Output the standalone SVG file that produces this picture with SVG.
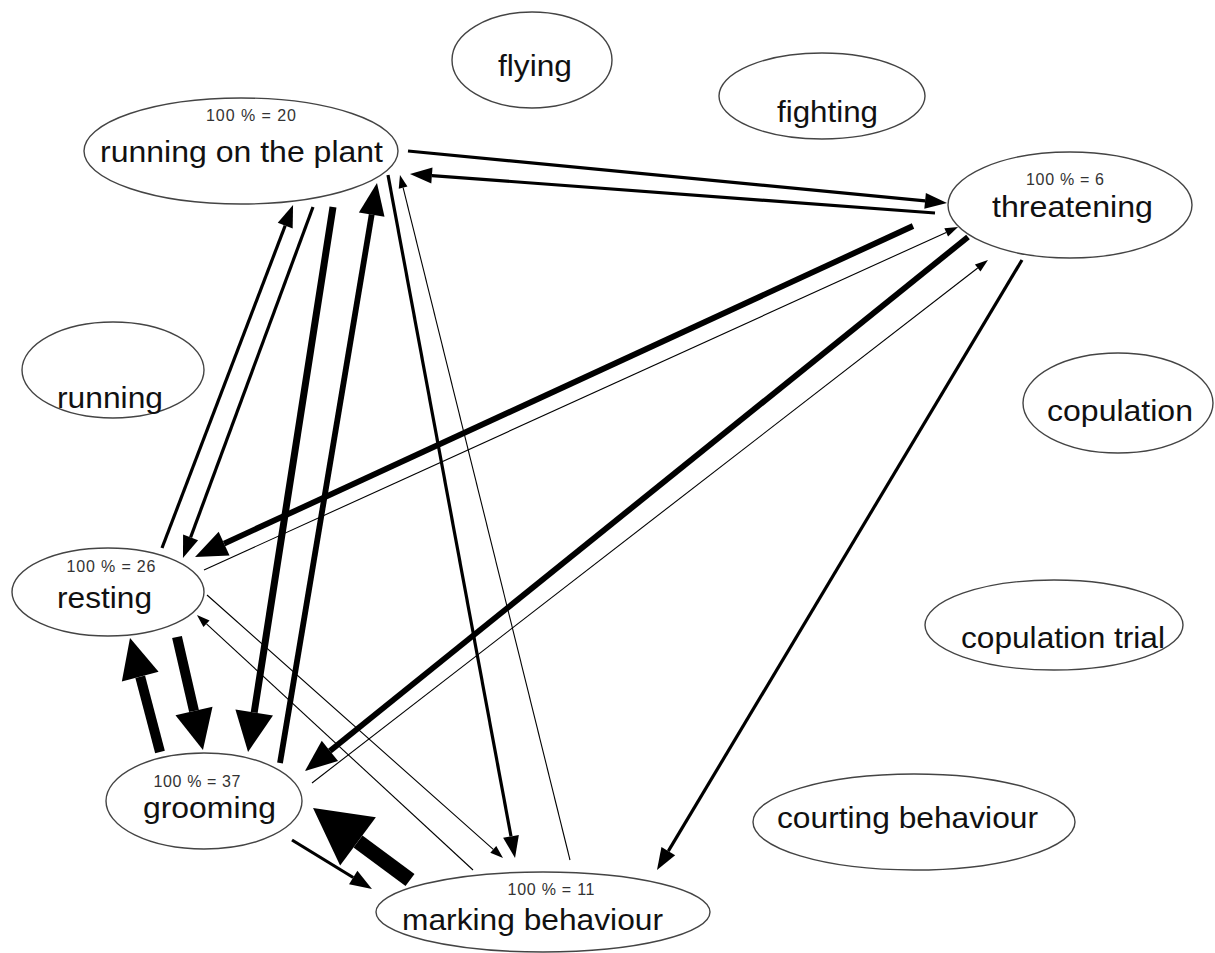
<svg xmlns="http://www.w3.org/2000/svg" width="1215" height="953" viewBox="0 0 1215 953">
  <style>
    .node ellipse { fill: #ffffff; stroke: #444444; stroke-width: 1.4; }
    .lbl { font-family: "Liberation Sans", Arial, sans-serif; font-size: 30px; fill: #111111; text-anchor: middle; }
    .pct { font-family: "Liberation Sans", Arial, sans-serif; font-size: 16px; fill: #333333; text-anchor: middle; }
    .edges line { stroke: #000000; fill: none; stroke-linecap: butt; }
    .w1 { stroke-width: 1.1; }
    .w3 { stroke-width: 3.2; }
    .w6 { stroke-width: 5.8; }
    .w7 { stroke-width: 7; }
    .w10 { stroke-width: 10; }
    .w15 { stroke-width: 15; }
  </style>
  <defs>
    <!-- arrowheads: base sits on the line end, tip points forward -->
    <marker id="hs" markerUnits="userSpaceOnUse" markerWidth="14" markerHeight="10" refX="0" refY="4.5" orient="auto" overflow="visible">
      <path d="M0,0 L13,4.5 L0,9 Z" fill="#000"/>
    </marker>
    <marker id="hm" markerUnits="userSpaceOnUse" markerWidth="23" markerHeight="17" refX="0" refY="8" orient="auto" overflow="visible">
      <path d="M0,0 L22,8 L0,16 Z" fill="#000"/>
    </marker>
    <marker id="hl" markerUnits="userSpaceOnUse" markerWidth="33" markerHeight="27" refX="0" refY="13" orient="auto" overflow="visible">
      <path d="M0,0 L32,13 L0,26 Z" fill="#000"/>
    </marker>
    <marker id="hxl" markerUnits="userSpaceOnUse" markerWidth="41" markerHeight="39" refX="0" refY="19" orient="auto" overflow="visible">
      <path d="M0,0 L40,19 L0,38 Z" fill="#000"/>
    </marker>
    <marker id="hxxl" markerUnits="userSpaceOnUse" markerWidth="57" markerHeight="61" refX="0" refY="30" orient="auto" overflow="visible">
      <path d="M0,0 L56,30 L0,60 Z" fill="#000"/>
    </marker>
  </defs>

  <rect x="0" y="0" width="1215" height="953" fill="#ffffff"/>

  <!-- behaviour states -->
  <g id="node-running-on-plant" class="node">
    <ellipse cx="241" cy="151" rx="157" ry="53"/>
    <text class="pct" x="251" y="121" textLength="90">100 % = 20</text>
    <text class="lbl" x="241.5" y="162" textLength="283" lengthAdjust="spacingAndGlyphs">running on the plant</text>
  </g>
  <g id="node-flying" class="node">
    <ellipse cx="532" cy="60" rx="80" ry="48"/>
    <text class="lbl" x="535" y="76" textLength="74" lengthAdjust="spacingAndGlyphs">flying</text>
  </g>
  <g id="node-fighting" class="node">
    <ellipse cx="822" cy="96" rx="103" ry="43"/>
    <text class="lbl" x="827.5" y="122" textLength="101" lengthAdjust="spacingAndGlyphs">fighting</text>
  </g>
  <g id="node-threatening" class="node">
    <ellipse cx="1070" cy="205" rx="122" ry="53"/>
    <text class="pct" x="1065" y="185" textLength="78">100 % = 6</text>
    <text class="lbl" x="1072.5" y="217" textLength="161" lengthAdjust="spacingAndGlyphs">threatening</text>
  </g>
  <g id="node-running" class="node">
    <ellipse cx="113" cy="370" rx="91" ry="48"/>
    <text class="lbl" x="110" y="408" textLength="106" lengthAdjust="spacingAndGlyphs">running</text>
  </g>
  <g id="node-copulation" class="node">
    <ellipse cx="1118" cy="403" rx="95" ry="50"/>
    <text class="lbl" x="1120" y="421" textLength="146" lengthAdjust="spacingAndGlyphs">copulation</text>
  </g>
  <g id="node-copulation-trial" class="node">
    <ellipse cx="1054" cy="625" rx="129" ry="45"/>
    <text class="lbl" x="1063" y="648" textLength="204" lengthAdjust="spacingAndGlyphs">copulation trial</text>
  </g>
  <g id="node-courting" class="node">
    <ellipse cx="914" cy="822" rx="161" ry="48"/>
    <text class="lbl" x="907.5" y="828" textLength="261" lengthAdjust="spacingAndGlyphs">courting behaviour</text>
  </g>
  <g id="node-resting" class="node">
    <ellipse cx="108" cy="592" rx="96" ry="44"/>
    <text class="pct" x="111" y="572" textLength="89">100 % = 26</text>
    <text class="lbl" x="104.5" y="608" textLength="95" lengthAdjust="spacingAndGlyphs">resting</text>
  </g>
  <g id="node-grooming" class="node">
    <ellipse cx="204" cy="801" rx="98" ry="48"/>
    <text class="pct" x="197" y="787" textLength="87">100 % = 37</text>
    <text class="lbl" x="209.5" y="818" textLength="133" lengthAdjust="spacingAndGlyphs">grooming</text>
  </g>
  <g id="node-marking" class="node">
    <ellipse cx="543" cy="912" rx="167" ry="40"/>
    <text class="pct" x="551" y="895" textLength="87">100 % = 11</text>
    <text class="lbl" x="532.5" y="930" textLength="261" lengthAdjust="spacingAndGlyphs">marking behaviour</text>
  </g>

  <!-- transitions; stroke weight follows transition frequency -->
  <g id="connectors" class="edges">
    <line class="w3" x1="408" y1="151" x2="925.1" y2="200.9" marker-end="url(#hm)"/>
    <line class="w3" x1="935" y1="213" x2="431.9" y2="175.6" marker-end="url(#hm)"/>
    <line class="w3" x1="162" y1="548" x2="285.2" y2="225.6" marker-end="url(#hm)"/>
    <line class="w3" x1="313" y1="207" x2="190.6" y2="537.4" marker-end="url(#hm)"/>
    <line class="w6" x1="913" y1="226" x2="224.1" y2="543.6" marker-end="url(#hl)"/>
    <line class="w1" x1="204" y1="570" x2="946.2" y2="232.4" marker-end="url(#hs)"/>
    <line class="w7" x1="333" y1="207" x2="254.2" y2="712.5" marker-end="url(#hxl)"/>
    <line class="w6" x1="280" y1="763" x2="371.7" y2="214.6" marker-end="url(#hl)"/>
    <line class="w3" x1="388" y1="175" x2="511.0" y2="836.4" marker-end="url(#hm)"/>
    <line class="w1" x1="570" y1="860" x2="403.1" y2="187.6" marker-end="url(#hs)"/>
    <line class="w1" x1="207" y1="595" x2="493.3" y2="849.4" marker-end="url(#hs)"/>
    <line class="w1" x1="473" y1="870" x2="206.5" y2="623.8" marker-end="url(#hs)"/>
    <line class="w10" x1="177" y1="637" x2="194.0" y2="711.0" marker-end="url(#hxl)"/>
    <line class="w10" x1="160" y1="752" x2="140.2" y2="676.7" marker-end="url(#hxl)"/>
    <line class="w6" x1="968" y1="237" x2="329.9" y2="750.9" marker-end="url(#hl)"/>
    <line class="w1" x1="312" y1="783" x2="977.7" y2="268.0" marker-end="url(#hs)"/>
    <line class="w3" x1="1022" y1="260" x2="668.3" y2="851.1" marker-end="url(#hm)"/>
    <line class="w15" x1="410" y1="880" x2="358.0" y2="841.4" marker-end="url(#hxxl)"/>
    <line class="w3" x1="292" y1="840" x2="353.2" y2="877.5" marker-end="url(#hm)"/>
  </g>
</svg>
